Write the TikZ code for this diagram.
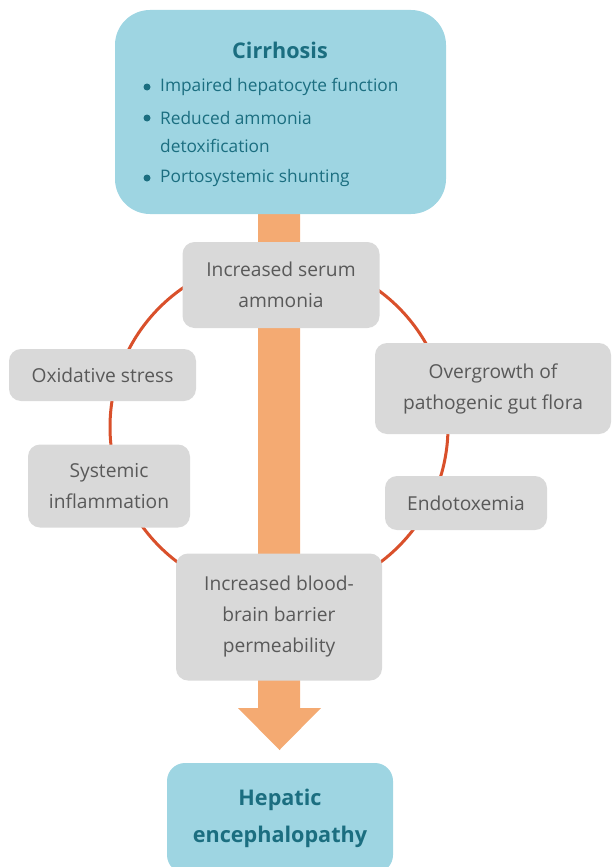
\documentclass[tikz,border=0pt]{standalone}
\usepackage{fontspec}
\setmainfont{Open Sans}
\definecolor{boxblue}{HTML}{9ED5E2}
\definecolor{tealtext}{HTML}{1B6E80}
\definecolor{arroworange}{HTML}{F4AA72}
\definecolor{ringred}{HTML}{D9502B}
\definecolor{greybox}{HTML}{D9D9D9}
\definecolor{greytext}{HTML}{595959}
\begin{document}
\begin{tikzpicture}[x=1pt,y=-1pt,
  greynode/.style={fill=greybox, rounded corners=12pt, text=greytext,
    font=\fontsize{19.2}{31}\selectfont, align=center, inner sep=0pt},
  bluebox/.style={fill=boxblue, inner sep=0pt},
  titletext/.style={text=tealtext, font=\fontsize{21.6}{37}\selectfont\bfseries, align=center, inner sep=0pt},
  bullettext/.style={text=tealtext, font=\fontsize{17.3}{28}\selectfont, anchor=west, inner sep=0pt, align=left},
  bulletdot/.style={fill=tealtext, circle, inner sep=0pt, minimum size=7pt}
]
\useasboundingbox (0,0) rectangle (612,867);
\clip (0,0) rectangle (612,867);
% big arrow
\fill[arroworange] (258,200) -- (300,200) -- (300,708) -- (321,708) -- (279.5,750) -- (238,708) -- (258,708) -- cycle;
% ring
\draw[ringred, line width=3pt] (279,427) circle[radius=169];
% top box
\node[bluebox, rounded corners=35pt, minimum width=331pt, minimum height=204pt] (cirr) at (280.5,112) {};
\node[titletext] (cirrtitle) at (280,50) {Cirrhosis};
\node[bulletdot] (d1) at (147,87) {};
\node[bulletdot] (d2) at (147,118) {};
\node[bulletdot] (d3) at (147,178) {};
\node[bullettext] (b1) at (160,87) {Impaired hepatocyte function};
\node[bullettext] (b2) at (160,132) {Reduced ammonia\\detoxification};
\node[bullettext] (b3) at (160,178) {Portosystemic shunting};
% grey boxes
\node[greynode, minimum width=197pt, minimum height=86pt] (serum) at (281,285) {Increased serum\\ammonia};
\node[greynode, minimum width=187pt, minimum height=52pt] (oxid) at (102.5,375) {Oxidative stress};
\node[greynode, minimum width=162pt, minimum height=83pt] (syst) at (109,486) {Systemic\\inflammation};
\node[greynode, minimum width=236pt, minimum height=91pt] (over) at (493,388.5) {Overgrowth of\\pathogenic gut flora};
\node[greynode, minimum width=162pt, minimum height=54pt] (endo) at (466,503) {Endotoxemia};
\node[greynode, minimum width=206pt, minimum height=127pt] (bbb) at (279,617) {Increased blood-\\brain barrier\\permeability};
% bottom box
\node[bluebox, rounded corners=18pt, minimum width=226pt, minimum height=110pt] (he) at (280,818) {};
\node[titletext] (hetext) at (280,818) {Hepatic\\encephalopathy};
\end{tikzpicture}
\end{document}
